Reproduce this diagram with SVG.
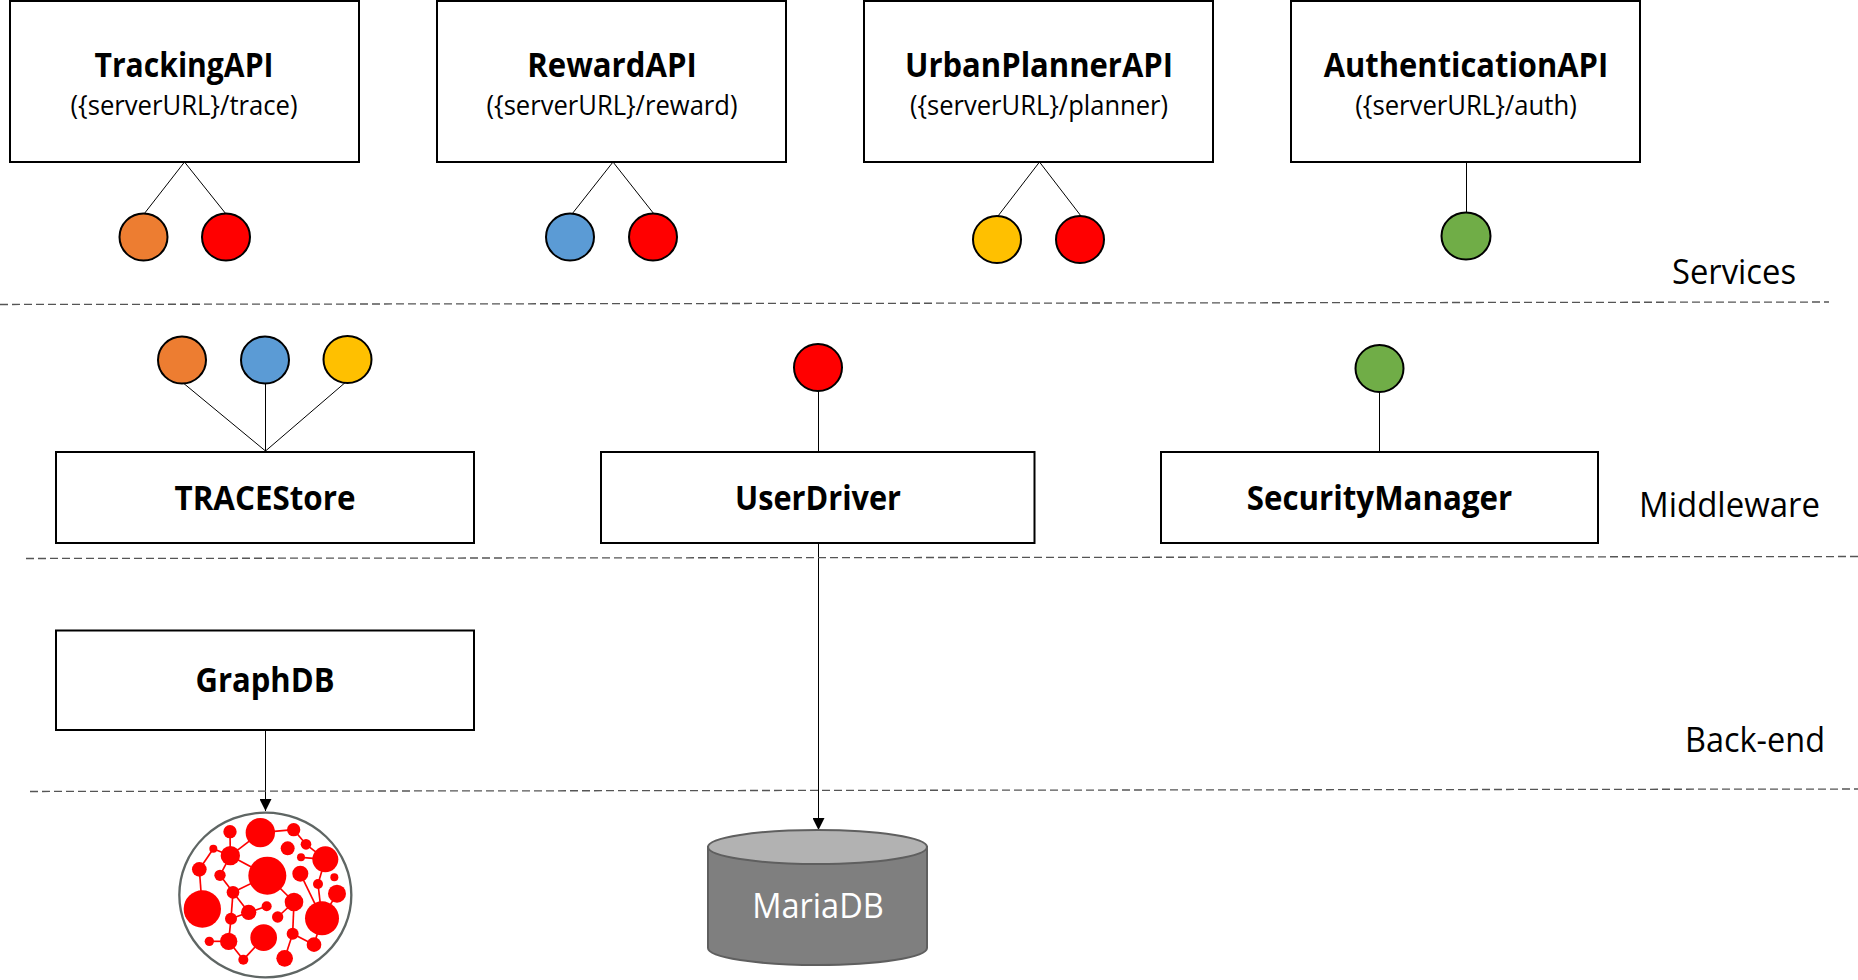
<svg xmlns="http://www.w3.org/2000/svg" width="1858" height="980" viewBox="0 0 1858 980">
<defs>
<marker id="arrow" markerUnits="userSpaceOnUse" markerWidth="12" markerHeight="12" refX="12" refY="6" orient="auto"><path d="M0 0L12 6L0 12Z" fill="#000"/></marker>
</defs>
<style>
text{font-family:"Open Sans","Noto Sans","Liberation Sans",sans-serif;text-anchor:middle;fill:#000}
.b{font-weight:700;font-size:34px}
.u{font-size:28px}
.l{font-size:34px}
.box{fill:#fff;stroke:#000;stroke-width:2}
.c{stroke:#000;stroke-width:2}
.conn{stroke:#000;stroke-width:1;fill:none}
.dash{stroke:#555;stroke-width:1.3;stroke-dasharray:8 4;fill:none}
.or{fill:#ed7d31}.bl{fill:#5b9bd5}.re{fill:#f00}.ye{fill:#ffc000}.gr{fill:#70ad47}
#graph circle{fill:#f00}
#graph line{stroke:#f00;stroke-width:5}
</style>
<rect width="1858" height="980" fill="#fff"/>
<g id="connectors">
<path class="conn" d="M184.500 162L144 214M184.500 162L226 214M613 162L572 214M613 162L654 214M1039.500 162L998 216M1039.500 162L1081 216M1466.500 162V214"/>
<path class="conn" d="M265.500 451L182 382M265.500 451V382M265.500 451L347 381M818.500 451V390M1379.500 451V391"/>
<path class="conn" d="M265.500 730V811" marker-end="url(#arrow)"/>
<path class="conn" d="M818.500 543V830" marker-end="url(#arrow)"/>
</g>
<g id="separators">
<path class="dash" d="M0 304.500L1829 302"/>
<path class="dash" d="M26 558.500L1858 556.500"/>
<path class="dash" d="M30 791.500L1858 789"/>
</g>
<g id="TrackingAPI"><rect class="box" x="10" y="1" width="349" height="161"/><text class="b" x="184" y="77" textLength="179" lengthAdjust="spacingAndGlyphs">TrackingAPI</text><text class="u" x="184" y="115" textLength="227" lengthAdjust="spacingAndGlyphs">({serverURL}/trace)</text></g>
<g id="RewardAPI"><rect class="box" x="437" y="1" width="349" height="161"/><text class="b" x="612" y="77" textLength="169.500" lengthAdjust="spacingAndGlyphs">RewardAPI</text><text class="u" x="612" y="115" textLength="251" lengthAdjust="spacingAndGlyphs">({serverURL}/reward)</text></g>
<g id="UrbanPlannerAPI"><rect class="box" x="864" y="1" width="349" height="161"/><text class="b" x="1039" y="77" textLength="268" lengthAdjust="spacingAndGlyphs">UrbanPlannerAPI</text><text class="u" x="1039" y="115" textLength="258" lengthAdjust="spacingAndGlyphs">({serverURL}/planner)</text></g>
<g id="AuthenticationAPI"><rect class="box" x="1291" y="1" width="349" height="161"/><text class="b" x="1466" y="77" textLength="284.500" lengthAdjust="spacingAndGlyphs">AuthenticationAPI</text><text class="u" x="1466" y="115" textLength="221.500" lengthAdjust="spacingAndGlyphs">({serverURL}/auth)</text></g>
<g id="port-t1"><ellipse class="c or" cx="143.500" cy="237" rx="24" ry="23.500"/></g>
<g id="port-t2"><ellipse class="c re" cx="226" cy="237" rx="24" ry="23.500"/></g>
<g id="port-r1"><ellipse class="c bl" cx="570" cy="237" rx="24" ry="23.500"/></g>
<g id="port-r2"><ellipse class="c re" cx="653" cy="237" rx="24" ry="23.500"/></g>
<g id="port-u1"><ellipse class="c ye" cx="997" cy="239.500" rx="24" ry="23.500"/></g>
<g id="port-u2"><ellipse class="c re" cx="1080" cy="239.500" rx="24" ry="23.500"/></g>
<g id="port-a1"><ellipse class="c gr" cx="1466" cy="236" rx="24.500" ry="23.500"/></g>
<g id="port-s1"><ellipse class="c or" cx="182" cy="360" rx="24" ry="23.500"/></g>
<g id="port-s2"><ellipse class="c bl" cx="265" cy="360" rx="24" ry="23.500"/></g>
<g id="port-s3"><ellipse class="c ye" cx="347.500" cy="359.500" rx="24" ry="23.500"/></g>
<g id="port-d1"><ellipse class="c re" cx="818" cy="367.500" rx="24" ry="23.500"/></g>
<g id="port-m1"><ellipse class="c gr" cx="1379.500" cy="368.500" rx="24" ry="23.500"/></g>
<g id="TRACEStore"><rect class="box" x="56" y="452" width="418" height="91"/><text class="b" x="265" y="510" textLength="181" lengthAdjust="spacingAndGlyphs">TRACEStore</text></g>
<g id="UserDriver"><rect class="box" x="601" y="452" width="433.500" height="91"/><text class="b" x="818" y="510" textLength="166" lengthAdjust="spacingAndGlyphs">UserDriver</text></g>
<g id="SecurityManager"><rect class="box" x="1161" y="452" width="437" height="91"/><text class="b" x="1379.500" y="510" textLength="265.500" lengthAdjust="spacingAndGlyphs">SecurityManager</text></g>
<g id="GraphDB"><rect class="box" x="56" y="630.500" width="418" height="99.500"/><text class="b" x="265" y="692" textLength="139" lengthAdjust="spacingAndGlyphs">GraphDB</text></g>
<g id="graph" transform="translate(160 780) scale(.33333)">
<ellipse cx="316" cy="345" rx="258" ry="247" fill="#fff" stroke="#5f6664" stroke-width="7"/>
<line x1="301" y1="158" x2="211" y2="227"/><line x1="210" y1="155" x2="211" y2="227"/><line x1="301" y1="158" x2="401" y2="149"/><line x1="401" y1="149" x2="438" y2="193"/><line x1="438" y1="193" x2="496" y2="238"/><line x1="160" y1="206" x2="211" y2="227"/><line x1="160" y1="206" x2="118" y2="268"/><line x1="118" y1="268" x2="127" y2="387"/><line x1="211" y1="227" x2="322" y2="287"/><line x1="211" y1="227" x2="180" y2="286"/><line x1="180" y1="286" x2="219" y2="337"/><line x1="219" y1="337" x2="322" y2="287"/><line x1="219" y1="337" x2="266" y2="397"/><line x1="219" y1="337" x2="213" y2="416"/><line x1="213" y1="416" x2="266" y2="397"/><line x1="266" y1="397" x2="320" y2="379"/><line x1="322" y1="287" x2="402" y2="366"/><line x1="402" y1="366" x2="353" y2="411"/><line x1="402" y1="366" x2="398" y2="461"/><line x1="423" y1="232" x2="496" y2="238"/><line x1="496" y1="238" x2="474" y2="312"/><line x1="474" y1="312" x2="486" y2="415"/><line x1="421" y1="281" x2="486" y2="415"/><line x1="531" y1="341" x2="486" y2="415"/><line x1="398" y1="461" x2="462" y2="494"/><line x1="398" y1="461" x2="374" y2="535"/><line x1="462" y1="494" x2="486" y2="415"/><line x1="213" y1="416" x2="206" y2="484"/><line x1="206" y1="484" x2="148" y2="484"/><line x1="206" y1="484" x2="250" y2="539"/><line x1="250" y1="539" x2="311" y2="473"/>
<circle cx="301" cy="158" r="44"/><circle cx="210" cy="155" r="20"/><circle cx="401" cy="149" r="20"/><circle cx="438" cy="193" r="16"/><circle cx="383" cy="205" r="21"/><circle cx="160" cy="206" r="12"/><circle cx="211" cy="227" r="29"/><circle cx="423" cy="232" r="12"/><circle cx="496" cy="238" r="39"/><circle cx="118" cy="268" r="22"/><circle cx="180" cy="286" r="17"/><circle cx="322" cy="287" r="57"/><circle cx="421" cy="281" r="24"/><circle cx="523" cy="292" r="12"/><circle cx="474" cy="312" r="15"/><circle cx="531" cy="341" r="27"/><circle cx="219" cy="337" r="19"/><circle cx="402" cy="366" r="28"/><circle cx="127" cy="387" r="56"/><circle cx="266" cy="397" r="23"/><circle cx="320" cy="379" r="15"/><circle cx="353" cy="411" r="17"/><circle cx="213" cy="416" r="18"/><circle cx="486" cy="415" r="51"/><circle cx="311" cy="473" r="40"/><circle cx="398" cy="461" r="18"/><circle cx="206" cy="484" r="26"/><circle cx="148" cy="484" r="14"/><circle cx="462" cy="494" r="22"/><circle cx="250" cy="539" r="15"/><circle cx="374" cy="535" r="25"/>
</g>
<g id="MariaDB">
<path d="M708 847V948A109.500 17 0 0 0 927 948V847Z" fill="#7f7f7f" stroke="#5f5f5f" stroke-width="2"/>
<ellipse cx="817.500" cy="847" rx="109.500" ry="17" fill="#b2b2b2" stroke="#5f5f5f" stroke-width="2"/>
<text class="l" x="818" y="918" textLength="131.500" lengthAdjust="spacingAndGlyphs" style="fill:#fff">MariaDB</text>
</g>
<g id="layer-labels">
<text class="l" x="1734" y="284" textLength="124" lengthAdjust="spacingAndGlyphs">Services</text>
<text class="l" x="1729.500" y="517" textLength="181" lengthAdjust="spacingAndGlyphs">Middleware</text>
<text class="l" x="1755" y="752" textLength="140" lengthAdjust="spacingAndGlyphs">Back-end</text>
</g>
</svg>
